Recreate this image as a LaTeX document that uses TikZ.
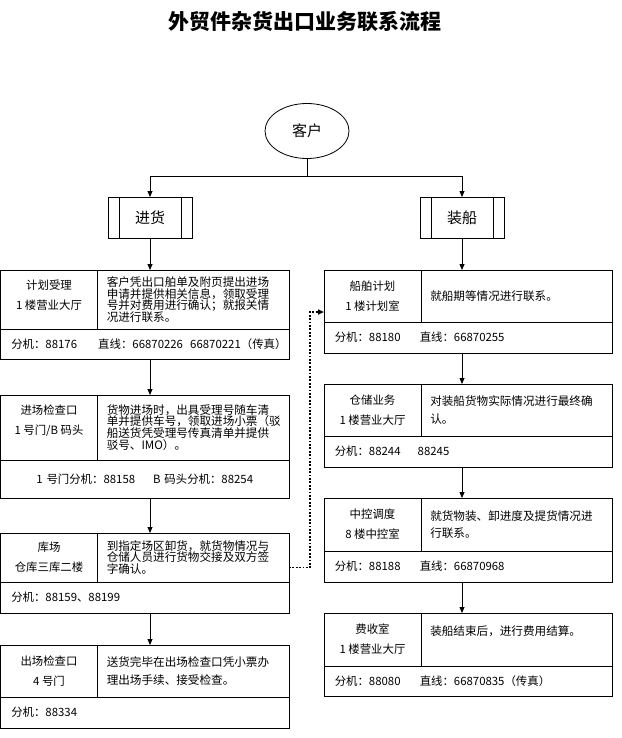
\documentclass[tikz,border=0pt]{standalone}
\usepackage{fontspec}
\setmainfont{Noto Sans CJK SC}
\usetikzlibrary{arrows.meta, shapes.geometric}

\begin{document}
\begin{tikzpicture}[x=1pt, y=-1pt, >={Triangle[length=6pt,width=5pt]},
    every node/.style={inner sep=0pt, outer sep=0pt},
    line width=0.8pt,
    cell/.style={draw, anchor=north west},
    lcell/.style={cell, minimum width=97pt, align=center, font=\fontsize{11.4}{20}\selectfont},
    dcell/.style={cell, minimum width=191.5pt, text width=173pt, align=left, font=\fontsize{11.6}{11.7}\selectfont},
    dwide/.style={dcell, font=\fontsize{11.6}{17.5}\selectfont},
    bcell/.style={cell, minimum width=288.5pt, text width=267pt, align=left, font=\fontsize{11.4}{14}\selectfont},
    procbox/.style={draw, minimum width=84pt, minimum height=41pt, font=\fontsize{15}{18}\selectfont,
        path picture={\draw ([xshift=11pt]path picture bounding box.north west) -- ([xshift=11pt]path picture bounding box.south west)
            ([xshift=-11pt]path picture bounding box.north east) -- ([xshift=-11pt]path picture bounding box.south east);}},
    dotline/.style={->, line width=1.8pt, dash pattern=on 1.8pt off 1.6pt}]
    \useasboundingbox (0,0) rectangle (621,738);

    \node[font=\bfseries\fontsize{21}{24}\selectfont] (title) at (305,22) {外贸件杂货出口业务联系流程};
    \node[draw, ellipse, minimum width=84pt, minimum height=55pt, font=\fontsize{15}{18}\selectfont] (kh) at (307,131) {客户};
    \node[procbox] (jh) at (150,217.5) {进货};
    \node[procbox] (zc) at (462,217.5) {装船};

    % 进货
    \node[lcell, minimum height=59pt] (jh1a) at (0.5,270) {计划受理\\1 楼营业大厅\\[-11pt]\mbox{}};
    \node[dcell, minimum height=59pt] (jh1b) at (jh1a.north east) {客户凭出口舶单及附页提出进场\\申请并提供相关信息，领取受理\\号并对费用进行确认；就报关情\\况进行联系。};
    \node[bcell, minimum height=30pt] (jh1c) at (jh1a.south west) {\makebox[87pt][l]{分机：88176}\makebox[92pt][l]{直线：66870226}66870221（传真）};

    \node[lcell, minimum height=65pt] (jh2a) at (0.5,395) {进场检查口\\1 号门/B 码头\\[-5pt]\mbox{}};
    \node[dcell, minimum height=65pt] (jh2b) at (jh2a.north east) {货物进场时，出具受理号随车清\\单并提供车号，领取进场小票（驳\\船送货凭受理号传真清单并提供\\驳号、IMO）。};
    \node[bcell, minimum height=38pt, align=center] (jh2c) at (jh2a.south west) {1 号门分机：88158\hspace{18pt}B 码头分机：88254};

    \node[lcell, minimum height=49pt] (jh3a) at (0.5,533) {库场\\仓库三库二楼};
    \node[dcell, minimum height=49pt] (jh3b) at (jh3a.north east) {到指定场区卸货，就货物情况与\\仓储人员进行货物交接及双方签\\字确认。};
    \node[bcell, minimum height=31pt] (jh3c) at (jh3a.south west) {分机：88159、88199};

    \node[lcell, minimum height=52pt] (jh4a) at (0.5,645) {出场检查口\\4 号门};
    \node[dwide, minimum height=52pt] (jh4b) at (jh4a.north east) {送货完毕在出场检查口凭小票办\\理出场手续、接受检查。};
    \node[bcell, minimum height=31pt] (jh4c) at (jh4a.south west) {分机：88334};

    % 装船
    \node[lcell, minimum height=52pt] (zc1a) at (324,270) {船舶计划\\1 楼计划室};
    \node[dwide, minimum height=52pt] (zc1b) at (zc1a.north east) {就船期等情况进行联系。};
    \node[bcell, minimum height=31pt] (zc1c) at (zc1a.south west) {\makebox[85pt][l]{分机：88180}直线：66870255};

    \node[lcell, minimum height=52pt] (zc2a) at (324,384) {仓储业务\\1 楼营业大厅};
    \node[dwide, minimum height=52pt] (zc2b) at (zc2a.north east) {对装船货物实际情况进行最终确\\认。};
    \node[bcell, minimum height=31pt] (zc2c) at (zc2a.south west) {\makebox[83pt][l]{分机：88244}88245};

    \node[lcell, minimum height=53pt] (zc3a) at (324,498) {中控调度\\8 楼中控室};
    \node[dwide, minimum height=53pt] (zc3b) at (zc3a.north east) {就货物装、卸进度及提货情况进\\行联系。};
    \node[bcell, minimum height=31pt] (zc3c) at (zc3a.south west) {\makebox[85pt][l]{分机：88188}直线：66870968};

    \node[lcell, minimum height=53pt] (zc4a) at (324,613) {费收室\\1 楼营业大厅};
    \node[dwide, minimum height=53pt] (zc4b) at (zc4a.north east) {装船结束后，进行费用结算。\\\mbox{}};
    \node[bcell, minimum height=30pt] (zc4c) at (zc4a.south west) {\makebox[85pt][l]{分机：88080}直线：66870835（传真）};

    % arrows
    \draw[->] (kh.south) -- ++(0,18) -| (jh.north);
    \draw[->] (kh.south) -- ++(0,18) -| (zc.north);
    \draw[->] (jh.south) -- (jh.south |- jh1b.north);
    \draw[->] (zc.south) -- (zc.south |- zc1b.north);
    \foreach \i/\j in {1/2, 2/3, 3/4} {
        \draw[->] (jh.south |- jh\i c.south) -- (jh.south |- jh\j b.north);
        \draw[->] (zc.south |- zc\i c.south) -- (zc.south |- zc\j b.north);
    }
    \draw[dotline] ([yshift=-10pt]jh3b.east) -- ++(21,0) |- ([yshift=-16pt]zc1a.west);
\end{tikzpicture}
\end{document}
